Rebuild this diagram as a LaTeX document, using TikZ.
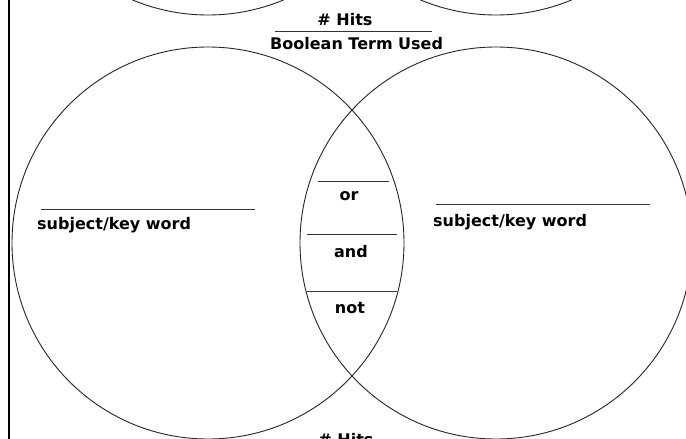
\documentclass[tikz,border=0pt]{standalone}
\usepackage{fontspec}
\newfontfamily\lblfont{DejaVu Sans}
\tikzset{
  ring/.style={draw=black!85, line width=0.9pt},
  blank/.style={draw=black!80, line width=1pt},
  lbl/.style={inner sep=0pt, font=\lblfont\bfseries\fontsize{16}{18}\selectfont},
}
\begin{document}
\begin{tikzpicture}[x=1pt, y=-1pt]
  \useasboundingbox (0,0) rectangle (686,439);
  \fill[white] (0,0) rectangle (686,439);
  \clip (0,0) rectangle (686,439);

  % left margin rule
  \draw[line width=2pt] (9,0) -- (9,439);

  % the two main Venn circles
  \node[ring, circle, minimum size=392pt, inner sep=0pt] (leftset)  at (208,243) {};
  \node[ring, circle, minimum size=392pt, inner sep=0pt] (rightset) at (496,243) {};

  % circles of the diagram above, only their lower arcs show
  \node[ring, circle, minimum size=392pt, inner sep=0pt] (upleft)  at (208,-181) {};
  \node[ring, circle, minimum size=392pt, inner sep=0pt] (upright) at (496,-181) {};

  % heading: hits over the Boolean term
  \node[lbl, anchor=base] (hits) at (345,25) {\# Hits};
  \draw[blank] (275,31) -- (432,31);
  \node[lbl, anchor=base west] (term) at (270,49) {Boolean Term Used};

  % key word blanks
  \draw[blank] (41,209) -- (255,209);
  \node[lbl, anchor=base west] (kwleft) at (37,229) {subject/key word};
  \draw[blank] (436,204) -- (650,204);
  \node[lbl, anchor=base west] (kwright) at (433,226) {subject/key word};

  % operators in the overlap
  \draw[blank] (318,181) -- (389,181);
  \node[lbl, anchor=base] (opor) at (349,200) {or};
  \draw[blank] (307,234) -- (397,234);
  \node[lbl, anchor=base] (opand) at (351,257) {and};
  \draw[blank] (307,291) -- (397,291);
  \node[lbl, anchor=base] (opnot) at (350,313) {not};

  % hits label of the diagram below
  \node[lbl, anchor=base] (hitsbelow) at (346,445) {\# Hits};
\end{tikzpicture}
\end{document}
